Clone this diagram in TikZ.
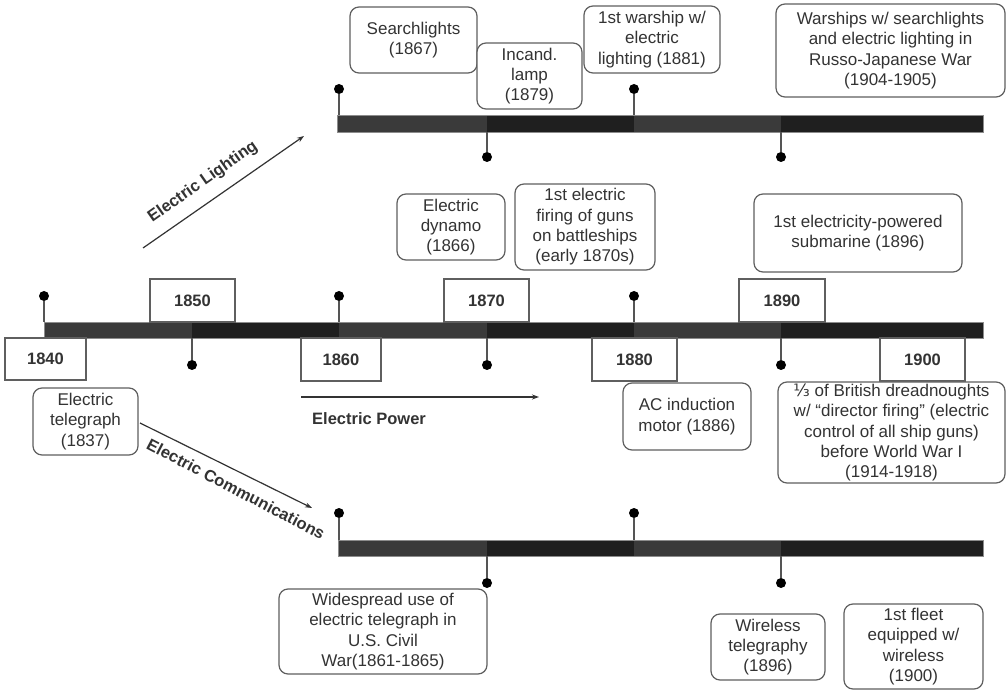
\documentclass[tikz,border=0pt]{standalone}
\usepackage{fontspec}
\setmainfont{Liberation Sans}
\newfontfamily\djv{DejaVu Sans}
\usetikzlibrary{arrows.meta}
\definecolor{txt}{HTML}{333333}
\definecolor{bord}{HTML}{5F5F5F}
\definecolor{barA}{HTML}{3A3A3A}
\definecolor{barB}{HTML}{1F1F1F}
\definecolor{stemc}{HTML}{555555}
\newcommand\evbox[6]{\node[evt, minimum width={#4-#2}, minimum height={#5-#3}] (#1) at ({(#2+#4)/2},{(#3+#5)/2}) {#6};}
\newcommand\yrbox[6]{\node[yr, minimum width={#4-#2}, minimum height={#5-#3}] (#1) at ({(#2+#4)/2},{(#3+#5)/2}) {#6};}
\begin{document}
\begin{tikzpicture}[x=1pt,y=-1pt,
 evt/.style={draw=bord, line width=1.2pt, rounded corners=9pt, fill=white, align=center, inner sep=0pt, text=txt, font=\fontsize{17}{20.3}\selectfont},
 yr/.style={draw=bord, line width=1.2pt, fill=white, inner sep=0pt, text=txt, font=\fontsize{16.5}{20}\selectfont\bfseries},
 dotn/.style={circle, fill=black, inner sep=0pt, minimum size=10pt},
 stem/.style={draw=stemc, line width=1.3pt},
 barout/.style={draw=black!45, line width=0.6pt},
 arr/.style={draw=txt, line width=1.2pt, -{Stealth[length=7pt,width=5pt]}},
 lbl/.style={text=txt, font=\fontsize{16.5}{20}\selectfont\bfseries, inner sep=0pt}
]
\useasboundingbox[fill=white] (0,0) rectangle (1007,692);

% ---------- bars ----------
% main bar
\fill[barA] (44,322) rectangle (192,338);
\fill[barB] (192,322) rectangle (339,338);
\fill[barA] (339,322) rectangle (487,338);
\fill[barB] (487,322) rectangle (634,338);
\fill[barA] (634,322) rectangle (781,338);
\fill[barB] (781,322) rectangle (983,338);
\draw[barout] (44,322) rectangle (983,338);
% lighting bar
\fill[barA] (337,115) rectangle (487,132);
\fill[barB] (487,115) rectangle (634,132);
\fill[barA] (634,115) rectangle (781,132);
\fill[barB] (781,115) rectangle (983,132);
\draw[barout] (337,115) rectangle (983,132);
% communications bar
\fill[barA] (338,540) rectangle (487,556);
\fill[barB] (487,540) rectangle (634,556);
\fill[barA] (634,540) rectangle (781,556);
\fill[barB] (781,540) rectangle (983,556);
\draw[barout] (338,540) rectangle (983,556);

% ---------- year boxes ----------
\yrbox{y1840}{5}{338}{86}{380}{1840}
\yrbox{y1850}{150}{279}{235}{322}{1850}
\yrbox{y1860}{301}{338}{381}{381}{1860}
\yrbox{y1870}{444}{279}{529}{322}{1870}
\yrbox{y1880}{592}{338}{677}{381}{1880}
\yrbox{y1890}{739}{279}{825}{322}{1890}
\yrbox{y1900}{880}{338}{965}{381}{1900}

% ---------- stems and dots ----------
% main bar
\foreach \n/\x in {a/44,b/339,c/634}{
  \coordinate (mu\n) at (\x,322);
  \node[dotn] (mud\n) at (\x,296) {};
  \draw[stem] (mu\n) -- (mud\n);
}
\foreach \n/\x in {a/192,b/487,c/781}{
  \coordinate (md\n) at (\x,338);
  \node[dotn] (mdd\n) at (\x,365) {};
  \draw[stem] (md\n) -- (mdd\n);
}
% lighting bar
\foreach \n/\x in {a/339,b/634}{
  \coordinate (lu\n) at (\x,115);
  \node[dotn] (lud\n) at (\x,89) {};
  \draw[stem] (lu\n) -- (lud\n);
}
\foreach \n/\x in {a/487,b/781}{
  \coordinate (ld\n) at (\x,132);
  \node[dotn] (ldd\n) at (\x,157) {};
  \draw[stem] (ld\n) -- (ldd\n);
}
% communications bar
\foreach \n/\x in {a/339,b/634}{
  \coordinate (cu\n) at (\x,540);
  \node[dotn] (cud\n) at (\x,513) {};
  \draw[stem] (cu\n) -- (cud\n);
}
\foreach \n/\x in {a/487,b/781}{
  \coordinate (cd\n) at (\x,556);
  \node[dotn] (cdd\n) at (\x,583) {};
  \draw[stem] (cd\n) -- (cdd\n);
}

% ---------- event boxes ----------
\evbox{search}{350}{7}{477}{73}{Searchlights\\(1867)}
\evbox{lamp}{477}{43}{582}{109}{Incand.\\lamp\\(1879)}
\evbox{warship}{584}{6}{720}{73}{1st warship w/\\electric\\lighting (1881)}
\evbox{rjwar}{776}{4}{1005}{97}{Warships w/ searchlights\\and electric lighting in\\Russo-Japanese War\\(1904-1905)}
\evbox{dynamo}{397}{194}{505}{260}{Electric\\dynamo\\(1866)}
\evbox{firing}{515}{184}{655}{270}{1st electric\\firing of guns\\on battleships\\(early 1870s)}
\evbox{sub}{754}{194}{962}{272}{1st electricity-powered\\submarine (1896)}
\evbox{acmotor}{623}{383}{751}{450}{AC induction\\motor (1886)}
\evbox{dread}{778}{382}{1005}{483}{{\djv ⅓} of British dreadnoughts\\w/ “director firing” (electric\\control of all ship guns)\\before World War I\\(1914-1918)}
\evbox{telegraph}{33}{388}{138}{455}{Electric\\telegraph\\(1837)}
\evbox{civil}{279}{589}{487}{674}{Widespread use of\\electric telegraph in\\U.S. Civil\\War(1861-1865)}
\evbox{wireless}{711}{614}{825}{680}{Wireless\\telegraphy\\(1896)}
\evbox{fleet}{844}{604}{983}{689}{1st fleet\\equipped w/\\wireless\\(1900)}

% ---------- branch arrows ----------
\coordinate (lit0) at (143,248);
\coordinate (lit1) at (304,136);
\draw[arr] (lit0) -- (lit1);
\node[lbl, rotate=35] (litlbl) at (203,182) {Electric Lighting};

\coordinate (pow0) at (301,397);
\coordinate (pow1) at (539,397);
\draw[arr] (pow0) -- (pow1);
\node[lbl, anchor=west] (powlbl) at (312,419) {Electric Power};

\coordinate (com0) at (140,423);
\coordinate (com1) at (312,508);
\draw[arr] (com0) -- (com1);
\node[lbl, rotate=-27.5] (comlbl) at (236,489) {Electric Communications};
\end{tikzpicture}
\end{document}
